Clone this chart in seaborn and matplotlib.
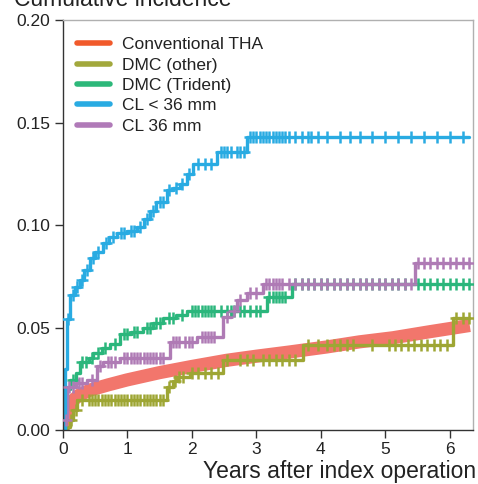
import numpy as np
import pandas as pd
import matplotlib
matplotlib.use("Agg")
import matplotlib.pyplot as plt
from matplotlib.lines import Line2D
import seaborn as sns

# ---------------- data ----------------
series_names = ["Conventional THA", "DMC (other)", "DMC (Trident)", "CL < 36 mm", "CL 36 mm"]

conv_t = [0, 0.02, 0.05, 0.1, 0.16, 0.25, 0.42, 0.7, 0.99, 1.5, 2.0, 2.54, 3.0, 3.5, 4.09, 4.6, 5.12, 5.7, 6.31]
conv_y = [0, 0.004, 0.008, 0.011, 0.0146, 0.017, 0.0195, 0.022, 0.0244, 0.028, 0.031, 0.034, 0.036, 0.038, 0.0405, 0.043, 0.045, 0.048, 0.051]

dmco_t = [0, 0.06, 0.11, 0.16, 0.22, 1.61, 1.70, 1.77, 1.97, 2.48, 3.72, 6.05, 6.3]
dmco_y = [0, 0.0015, 0.005, 0.01, 0.0146, 0.021, 0.024, 0.026, 0.028, 0.034, 0.0415, 0.0546, 0.0546]
dmco_cens = [0.12, 0.2, 0.3, 0.4, 0.45, 0.5, 0.55, 0.6, 0.65, 0.7, 0.75, 0.8, 0.85, 0.9, 0.95, 1.0, 1.05,
             1.1, 1.15, 1.2, 1.25, 1.3, 1.35, 1.4, 1.45, 1.5, 1.55, 1.65, 1.74, 1.8, 1.86, 2.0, 2.1, 2.2,
             2.3, 2.4, 2.55, 2.75, 2.85, 2.95, 3.1, 3.2, 3.3, 3.4, 3.5, 3.6, 3.8, 3.95, 4.1, 4.2, 4.3, 4.4,
             4.5, 4.8, 5.05, 5.15, 5.25, 5.35, 5.45, 5.55, 5.65, 5.75, 5.85, 5.95, 6.1, 6.2, 6.3]

dmct_t = [0, 0.03, 0.06, 0.11, 0.2, 0.26, 0.4, 0.47, 0.6, 0.73, 0.88, 1.05, 1.24, 1.4, 1.55, 1.75, 1.92, 3.16, 3.55, 6.3]
dmct_y = [0, 0.01, 0.02, 0.0245, 0.028, 0.033, 0.035, 0.0375, 0.040, 0.042, 0.047, 0.048, 0.050, 0.052, 0.0546, 0.056, 0.058, 0.065, 0.0712, 0.0712]
dmct_cens = [0.15, 0.3, 0.35, 0.45, 0.55, 0.65, 0.8, 0.95, 1.0, 1.1, 1.15, 1.3, 1.35, 1.45, 1.5, 1.65, 1.7,
             1.85, 2.0, 2.05, 2.1, 2.15, 2.2, 2.25, 2.3, 2.35, 2.45, 2.55, 2.6, 2.65, 2.75, 2.8, 2.9, 3.0,
             3.05, 3.2, 3.25, 3.3, 3.35, 3.4, 3.45, 3.6, 3.7, 3.8, 3.9, 4.0, 4.1, 4.2, 4.3, 4.4, 4.5, 4.6,
             4.7, 4.8, 4.9, 5.0, 5.1, 5.2, 5.3, 5.5, 5.6, 5.7, 5.8, 5.9, 6.0, 6.1, 6.2, 6.3]

cls_t = [0, 0.03, 0.06, 0.11, 0.18, 0.26, 0.33, 0.42, 0.5, 0.62, 0.72, 0.84, 1.0, 1.15, 1.25, 1.35, 1.45,
         1.61, 1.7, 1.81, 1.92, 2.02, 2.39, 2.85, 6.3]
cls_y = [0, 0.03, 0.054, 0.066, 0.070, 0.073, 0.078, 0.084, 0.087, 0.091, 0.094, 0.096, 0.097, 0.099, 0.103,
         0.107, 0.111, 0.117, 0.118, 0.120, 0.125, 0.130, 0.1355, 0.143, 0.143]
cls_cens = [0.08, 0.15, 0.22, 0.3, 0.38, 0.46, 0.55, 0.66, 0.78, 0.9, 0.95, 1.05, 1.1, 1.2, 1.3, 1.4, 1.5,
            1.55, 1.65, 1.75, 1.85, 1.95, 2.1, 2.2, 2.3, 2.45, 2.5, 2.55, 2.6, 2.7, 2.75, 2.8, 2.9, 2.95,
            3.0, 3.05, 3.1, 3.15, 3.2, 3.25, 3.3, 3.35, 3.4, 3.45, 3.5, 3.6, 3.7, 3.8, 3.85, 3.95, 4.1,
            4.3, 4.45, 4.6, 4.8, 5.0, 5.2, 5.4, 5.6, 5.8, 6.0, 6.2]

cl36_t = [0, 0.02, 0.06, 0.2, 0.37, 0.53, 0.62, 0.88, 1.66, 2.08, 2.48, 2.6, 2.70, 2.85, 3.1, 5.46, 6.3]
cl36_y = [0, 0.005, 0.021, 0.023, 0.0245, 0.031, 0.033, 0.035, 0.043, 0.0455, 0.055, 0.058, 0.0634, 0.067,
          0.0712, 0.0814, 0.0814]
cl36_cens = [0.04, 0.1, 0.15, 0.25, 0.3, 0.45, 0.58, 0.7, 0.75, 0.8, 0.95, 1.0, 1.05, 1.1, 1.15, 1.2, 1.25,
             1.3, 1.35, 1.4, 1.45, 1.5, 1.55, 1.7, 1.75, 1.8, 1.9, 1.95, 2.0, 2.15, 2.2, 2.25, 2.3, 2.35,
             2.55, 2.65, 2.75, 2.9, 3.0, 3.15, 3.2, 3.25, 3.3, 3.35, 3.4, 3.5, 3.6, 3.7, 3.8, 3.9, 4.0, 4.1,
             4.2, 4.3, 4.4, 4.5, 4.6, 4.7, 4.8, 4.9, 5.0, 5.1, 5.2, 5.3, 5.4, 5.5, 5.6, 5.7, 5.8, 5.9, 6.0,
             6.1, 6.2, 6.3]

y_ticks = [0.00, 0.05, 0.10, 0.15, 0.20]
x_ticks = [0, 1, 2, 3, 4, 5, 6]

line_colors = ["#F2766C", "#9EA634", "#2BB67C", "#29ABE2", "#AF7BB5"]
legend_colors = ["#F15A2B", "#A2A83C", "#2DB87A", "#29ABE2", "#B07AB8"]

# ---------------- figure ----------------
sns.set_theme(style="white")
plt.rcParams["font.family"] = ["Liberation Sans", "DejaVu Sans"]

fig = plt.figure(figsize=(4.78, 4.84), dpi=100)
ax = fig.add_axes([63 / 478, 1 - 430 / 484, 410 / 478, 410 / 484])

# conventional THA: smooth thick band
df_conv = pd.DataFrame({"t": conv_t, "y": conv_y})
sns.lineplot(data=df_conv, x="t", y="y", ax=ax, color=line_colors[0], lw=9.5,
             estimator=None, sort=False, solid_capstyle="butt")

def step_series(ts, ys, cens, color):
    df = pd.DataFrame({"t": ts, "y": ys})
    sns.lineplot(data=df, x="t", y="y", ax=ax, color=color, lw=2.4,
                 estimator=None, sort=False, drawstyle="steps-post")
    ts_a = np.asarray(ts)
    ys_a = np.asarray(ys)
    idx = np.searchsorted(ts_a, np.asarray(cens), side="right") - 1
    cdf = pd.DataFrame({"t": cens, "y": ys_a[idx]})
    sns.scatterplot(data=cdf, x="t", y="y", ax=ax, marker="+", s=80, color=color,
                    linewidth=1.8, zorder=3)

step_series(dmco_t, dmco_y, dmco_cens, line_colors[1])
step_series(dmct_t, dmct_y, dmct_cens, line_colors[2])
step_series(cl36_t, cl36_y, cl36_cens, line_colors[4])
step_series(cls_t, cls_y, cls_cens, line_colors[3])

ax.set_xlim(0, 6.36)
ax.set_ylim(0, 0.20)
ax.set_xticks(x_ticks)
ax.set_xticklabels([str(v) for v in x_ticks])
ax.set_yticks(y_ticks)
ax.set_yticklabels([f"{v:.2f}" for v in y_ticks])
ax.set_xlabel("")
ax.set_ylabel("")
ax.tick_params(axis="both", which="both", direction="out", length=6, width=1,
               color="#333333", labelsize=12.5, labelcolor="#222222", pad=3,
               bottom=True, left=True)

for side in ["left", "bottom"]:
    ax.spines[side].set_color("#333333")
    ax.spines[side].set_linewidth(1.0)
for side in ["top", "right"]:
    ax.spines[side].set_color("#B0B0B0")
    ax.spines[side].set_linewidth(1.0)

handles = [Line2D([0], [0], color=c, lw=4, solid_capstyle="round") for c in legend_colors]
leg = ax.legend(handles, series_names, loc="upper left", bbox_to_anchor=(0.035, 0.958),
                frameon=False, fontsize=12.5, handlelength=1.9, handletextpad=0.65,
                labelspacing=0.3, borderpad=0, borderaxespad=0)
for t in leg.get_texts():
    t.set_color("#222222")

fig.text(476 / 478, 1 - 478 / 484, "Years after index operation", ha="right", va="baseline",
         fontsize=16.5, color="#222222")
fig.text(14 / 478, 1 - 6 / 484, "Cumulative incidence", ha="left", va="baseline",
         fontsize=16.5, color="#222222")

fig.savefig("out.png", dpi=100)
